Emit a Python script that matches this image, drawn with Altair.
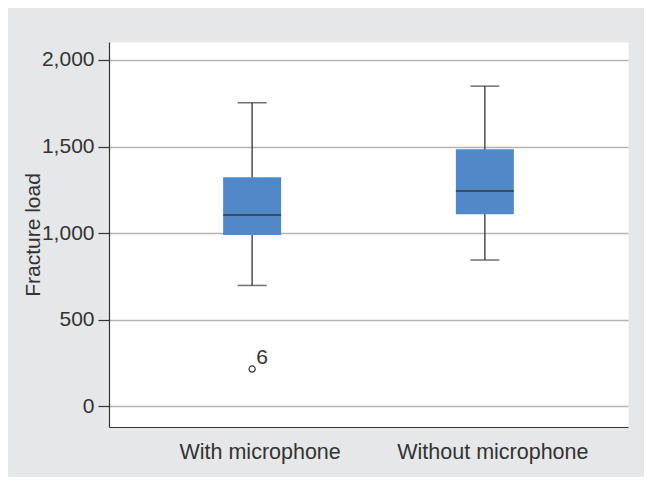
import altair as alt
import pandas as pd

groups = ["With microphone", "Without microphone"]
lower = [697, 844]
q1 = [988, 1108]
median = [1104, 1243]
q3 = [1322, 1484]
upper = [1753, 1849]

outlier_group = ["With microphone"]
outlier_value = [214]
outlier_label = ["6"]

y_ticks = [0, 500, 1000, 1500, 2000]

boxes = pd.DataFrame({"group": groups, "lower": lower, "q1": q1,
                      "median": median, "q3": q3, "upper": upper})
outliers = pd.DataFrame({"group": outlier_group, "value": outlier_value,
                         "label": outlier_label})

FONT = "Liberation Sans"
DARK = "#333333"

x_enc = alt.X("group:N",
              scale=alt.Scale(domain=groups, paddingInner=0, paddingOuter=0.115),
              axis=alt.Axis(title=None, ticks=False, labelAngle=0, labelFontSize=21.5,
                            labelFont=FONT, labelColor=DARK, labelPadding=14,
                            labelLimit=400, labelOffset=8, domainColor=DARK,
                            domainWidth=1.2, grid=False))

y_scale = alt.Scale(domain=[-121, 2104], nice=False, zero=False)
y_axis = alt.Axis(values=y_ticks, format=",.0f", title="Fracture load",
                  titleFontSize=21, titleFont=FONT, titleFontWeight="normal",
                  titleColor=DARK, titleX=-70, titleBaseline="alphabetic",
                  labelFontSize=21, labelFont=FONT, labelColor=DARK,
                  labelPadding=4, tickSize=11, tickColor=DARK, tickWidth=1.2,
                  domainColor=DARK, domainWidth=1.2,
                  grid=True, gridColor="#b3b3b3", gridWidth=1.5)

base = alt.Chart(boxes).encode(x=x_enc)

whisker = base.mark_rule(color=DARK, strokeWidth=1.3).encode(
    y=alt.Y("lower:Q", scale=y_scale, axis=y_axis), y2="upper:Q")

box = base.mark_bar(size=58, color="#5088c8").encode(
    y=alt.Y("q1:Q", scale=y_scale), y2="q3:Q")

med = base.mark_tick(size=58, thickness=2, color=DARK).encode(
    y=alt.Y("median:Q", scale=y_scale))

cap_lo = base.mark_tick(size=29, thickness=1.5, color=DARK).encode(
    y=alt.Y("lower:Q", scale=y_scale))
cap_hi = base.mark_tick(size=29, thickness=1.5, color=DARK).encode(
    y=alt.Y("upper:Q", scale=y_scale))

out_base = alt.Chart(outliers).encode(
    x=alt.X("group:N", scale=alt.Scale(domain=groups, paddingInner=0, paddingOuter=0.115)),
    y=alt.Y("value:Q", scale=y_scale))
out_pt = out_base.mark_point(shape="circle", filled=False, size=38,
                             color=DARK, strokeWidth=1.2, opacity=1)
out_txt = out_base.mark_text(dx=10, dy=-11, fontSize=21, font=FONT,
                             color=DARK).encode(text="label:N")

chart = alt.layer(whisker, box, med, cap_lo, cap_hi, out_pt, out_txt).properties(
    width=519, height=385,
    autosize=alt.AutoSizeParams(type="none"),
    padding={"left": 101, "top": 34, "right": 16, "bottom": 50},
    background="#e6e7e8",
).configure_view(fill="white", stroke="transparent")

chart.save("out.html", embed_options={"renderer": "svg", "actions": False})
